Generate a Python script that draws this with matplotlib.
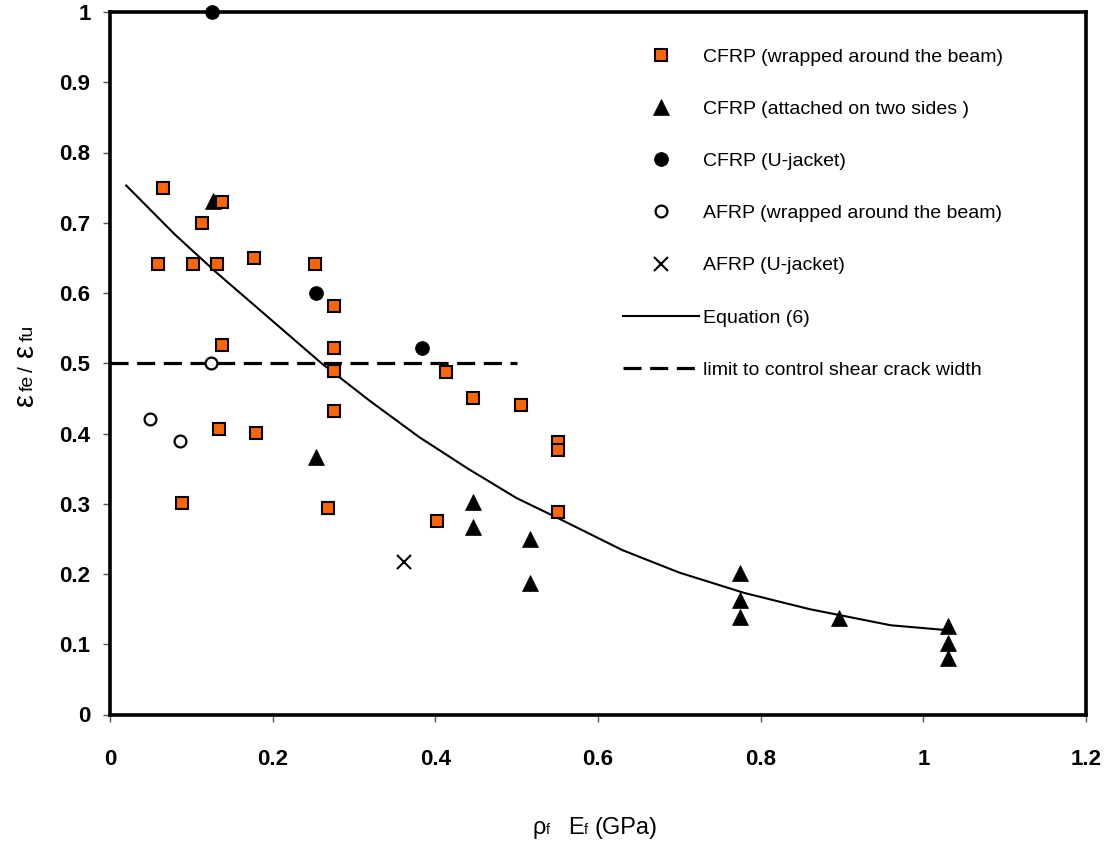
import matplotlib
matplotlib.use("Agg")
import matplotlib.pyplot as plt
from matplotlib.transforms import IdentityTransform

plt.rcParams['font.family'] = ['Liberation Sans', 'DejaVu Sans']
plt.rcParams['lines.scale_dashes'] = False

# ---- data ----
cfrp_wrap_x = [0.065, 0.138, 0.113, 0.059, 0.102, 0.132, 0.177, 0.252, 0.276, 0.138,
               0.276, 0.276, 0.4135, 0.276, 0.446, 0.5055, 0.551, 0.551, 0.134, 0.179,
               0.089, 0.2675, 0.4025, 0.551]
cfrp_wrap_y = [0.750, 0.730, 0.700, 0.641, 0.641, 0.641, 0.650, 0.641, 0.582, 0.526,
               0.521, 0.489, 0.488, 0.432, 0.451, 0.441, 0.388, 0.376, 0.406, 0.401,
               0.301, 0.294, 0.276, 0.288]

cfrp_two_x = [0.1265, 0.253, 0.446, 0.446, 0.517, 0.517, 0.775, 0.775, 0.775, 0.896,
              1.03, 1.03, 1.03]
cfrp_two_y = [0.731, 0.367, 0.303, 0.267, 0.250, 0.187, 0.201, 0.163, 0.139, 0.138,
              0.126, 0.102, 0.080]

cfrp_u_x = [0.1255, 0.2527, 0.383]
cfrp_u_y = [1.000, 0.600, 0.521]

afrp_wrap_x = [0.0496, 0.0865, 0.1243]
afrp_wrap_y = [0.421, 0.390, 0.501]

afrp_u_x = [0.361]
afrp_u_y = [0.217]

eq_x = [0.02, 0.08, 0.13, 0.20, 0.26, 0.32, 0.38, 0.44, 0.50, 0.55, 0.63, 0.70, 0.78,
        0.86, 0.96, 1.03]
eq_y = [0.753, 0.683, 0.630, 0.560, 0.500, 0.446, 0.395, 0.350, 0.308, 0.280, 0.234,
        0.202, 0.173, 0.150, 0.127, 0.120]

limit_x = [0.0, 0.5]
limit_y = [0.5, 0.5]

x_ticks = [0, 0.2, 0.4, 0.6, 0.8, 1, 1.2]
x_tick_labels = ['0', '0.2', '0.4', '0.6', '0.8', '1', '1.2']
y_ticks = [0, 0.1, 0.2, 0.3, 0.4, 0.5, 0.6, 0.7, 0.8, 0.9, 1]
y_tick_labels = ['0', '0.1', '0.2', '0.3', '0.4', '0.5', '0.6', '0.7', '0.8', '0.9', '1']

labels = ['CFRP (wrapped around the beam)', 'CFRP (attached on two sides )',
          'CFRP (U-jacket)', 'AFRP (wrapped around the beam)', 'AFRP (U-jacket)',
          'Equation (6)', 'limit to control shear crack width']

W, H = 1109, 850
fig = plt.figure(figsize=(W / 100, H / 100), dpi=100)
ax = fig.add_axes([110 / W, 1 - 714.5 / H, (1086 - 110) / W, (714.5 - 12) / H])

h1, = ax.plot(cfrp_wrap_x, cfrp_wrap_y, 's', ms=8.8, mfc='#FF6600', mec='black', mew=1.5,
              zorder=5, clip_on=False)
h2, = ax.plot(cfrp_two_x, cfrp_two_y, '^', ms=11, mfc='black', mec='black', mew=0.5,
              zorder=4, clip_on=False)
h3, = ax.plot(cfrp_u_x, cfrp_u_y, 'o', ms=10, mfc='black', mec='black', mew=0.5,
              zorder=5, clip_on=False)
h4, = ax.plot(afrp_wrap_x, afrp_wrap_y, 'o', ms=8.5, mfc='white', mec='black', mew=1.6,
              zorder=5, clip_on=False)
h5, = ax.plot(afrp_u_x, afrp_u_y, 'x', ms=10, mec='black', mew=1.5, zorder=5, clip_on=False)
h6, = ax.plot(eq_x, eq_y, '-', color='black', lw=1.5, zorder=3)
h7, = ax.plot(limit_x, limit_y, color='black', lw=2.3, dashes=(13, 6.2), zorder=3)

ax.set_xlim(0, 1.2)
ax.set_ylim(0, 1)
ax.set_xticks(x_ticks)
ax.set_xticklabels(x_tick_labels)
ax.set_yticks(y_ticks)
ax.set_yticklabels(y_tick_labels)
for lab in ax.get_xticklabels() + ax.get_yticklabels():
    lab.set_fontweight('bold')
    lab.set_fontsize(16)
ax.tick_params(axis='y', direction='out', length=5, width=1, color='#555555', pad=9)
ax.tick_params(axis='x', direction='out', length=5, width=1, color='#555555', pad=20)
for s in ax.spines.values():
    s.set_linewidth(2.6)
    s.set_color('black')

leg = ax.legend([h1, h2, h3, h4, h5, h6, h7], labels, loc='upper left',
                bbox_to_anchor=(623 / W, 1 - 48 / H), bbox_transform=fig.transFigure,
                frameon=False, fontsize=14, handlelength=3.9, handletextpad=0.2,
                labelspacing=1.78, borderpad=0, borderaxespad=0, numpoints=1)

# x-axis label (pieces with small "f")
tr = IdentityTransform()
base_x = H - 834
for s, xp, fs in [('ρ', 533, 17), ('f', 546, 10), ('E', 568, 17), ('f', 584, 10),
                  ('(GPa)', 594, 17)]:
    fig.text(xp, base_x, s, fontsize=fs, ha='left', va='baseline', transform=tr)

# y-axis label, rotated
for s, yp, fs in [('ε', 406, 21), ('fe', 391, 14), ('/', 372, 15), ('ε', 357, 21),
                  ('fu', 341, 14)]:
    fig.text(33, H - yp, s, fontsize=fs, ha='left', va='baseline', rotation=90,
             rotation_mode='anchor', transform=tr)

fig.savefig('out.png', dpi=100)
